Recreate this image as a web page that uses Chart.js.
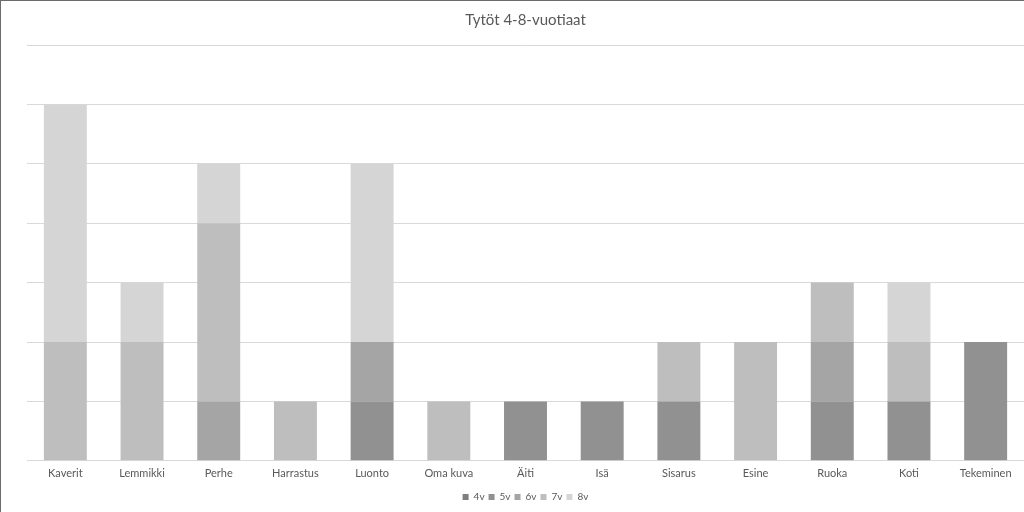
<!DOCTYPE html>
<html>
<head>
<meta charset="utf-8">
<script src="https://cdn.jsdelivr.net/npm/chart.js@4"></script>
<style>
  html, body { margin: 0; padding: 0; background: #fff; }
  .chart-container { width: 1024px; height: 512px; position: relative; box-sizing: border-box; border-top: 1px solid #6b6b6b; border-left: 1px solid #6b6b6b; }
</style>
</head>
<body>
<div class="chart-container"><canvas id="myChart" width="1023" height="511"></canvas></div>
<script>
const categories = ["Kaverit", "Lemmikki", "Perhe", "Harrastus", "Luonto", "Oma kuva", "Äiti", "Isä", "Sisarus", "Esine", "Ruoka", "Koti", "Tekeminen"];
const series_names = ["4v", "5v", "6v", "7v", "8v"];
const values_4v = [0, 0, 0, 0, 0, 0, 0, 0, 0, 0, 0, 0, 0];
const values_5v = [0, 0, 0, 0, 1, 0, 1, 1, 1, 0, 1, 1, 2];
const values_6v = [0, 0, 1, 0, 1, 0, 0, 0, 0, 0, 1, 0, 0];
const values_7v = [2, 2, 3, 1, 0, 1, 0, 0, 1, 2, 1, 1, 0];
const values_8v = [4, 1, 1, 0, 3, 0, 0, 0, 0, 0, 0, 1, 0];
const y_max = 7;

const series_values = [values_4v, values_5v, values_6v, values_7v, values_8v];
const series_colors = ['#7f7f7f', '#919191', '#a5a5a5', '#bebebe', '#d5d5d5'];
const font_family = 'Lato, "Open Sans", sans-serif';

function create_chart_datasets()
{
    let datasets = [];
    series_names.forEach((name, i) => {
        datasets.push({
            label: name,
            data: series_values[i],
            backgroundColor: series_colors[i],
            borderWidth: 0,
            barPercentage: 0.56,
            categoryPercentage: 1.0
        });
    });
    return datasets;
}

var ctx = document.getElementById('myChart').getContext('2d');
var chart = new Chart(ctx, {
    type: 'bar',
    data: {
        labels: categories,
        datasets: create_chart_datasets()
    },
    options: {
        responsive: false,
        animation: false,
        layout: { padding: { left: 26, right: 0, top: 0, bottom: 0 } },
        plugins: {
            title: {
                display: true,
                text: 'Tytöt 4-8-vuotiaat',
                color: '#595959',
                font: { family: font_family, size: 15, weight: 'normal' },
                padding: { top: 10, bottom: 16 }
            },
            legend: {
                position: 'bottom',
                labels: {
                    color: '#595959',
                    font: { family: font_family, size: 10 },
                    boxWidth: 6,
                    boxHeight: 6,
                    padding: 4
                }
            },
            tooltip: { enabled: false }
        },
        scales: {
            x: {
                stacked: true,
                grid: { display: false },
                border: { color: '#d9d9d9', width: 1 },
                ticks: {
                    color: '#595959',
                    font: { family: font_family, size: 11 },
                    padding: -2,
                    maxRotation: 0
                },
                // leave a little room between the labels and the legend
                afterFit: (scale) => { scale.height += 10; }
            },
            y: {
                stacked: true,
                min: 0,
                max: y_max,
                ticks: { display: false, stepSize: 1 },
                grid: { color: '#d9d9d9', drawTicks: false },
                border: { display: false }
            }
        }
    }
});
</script>
</body>
</html>
